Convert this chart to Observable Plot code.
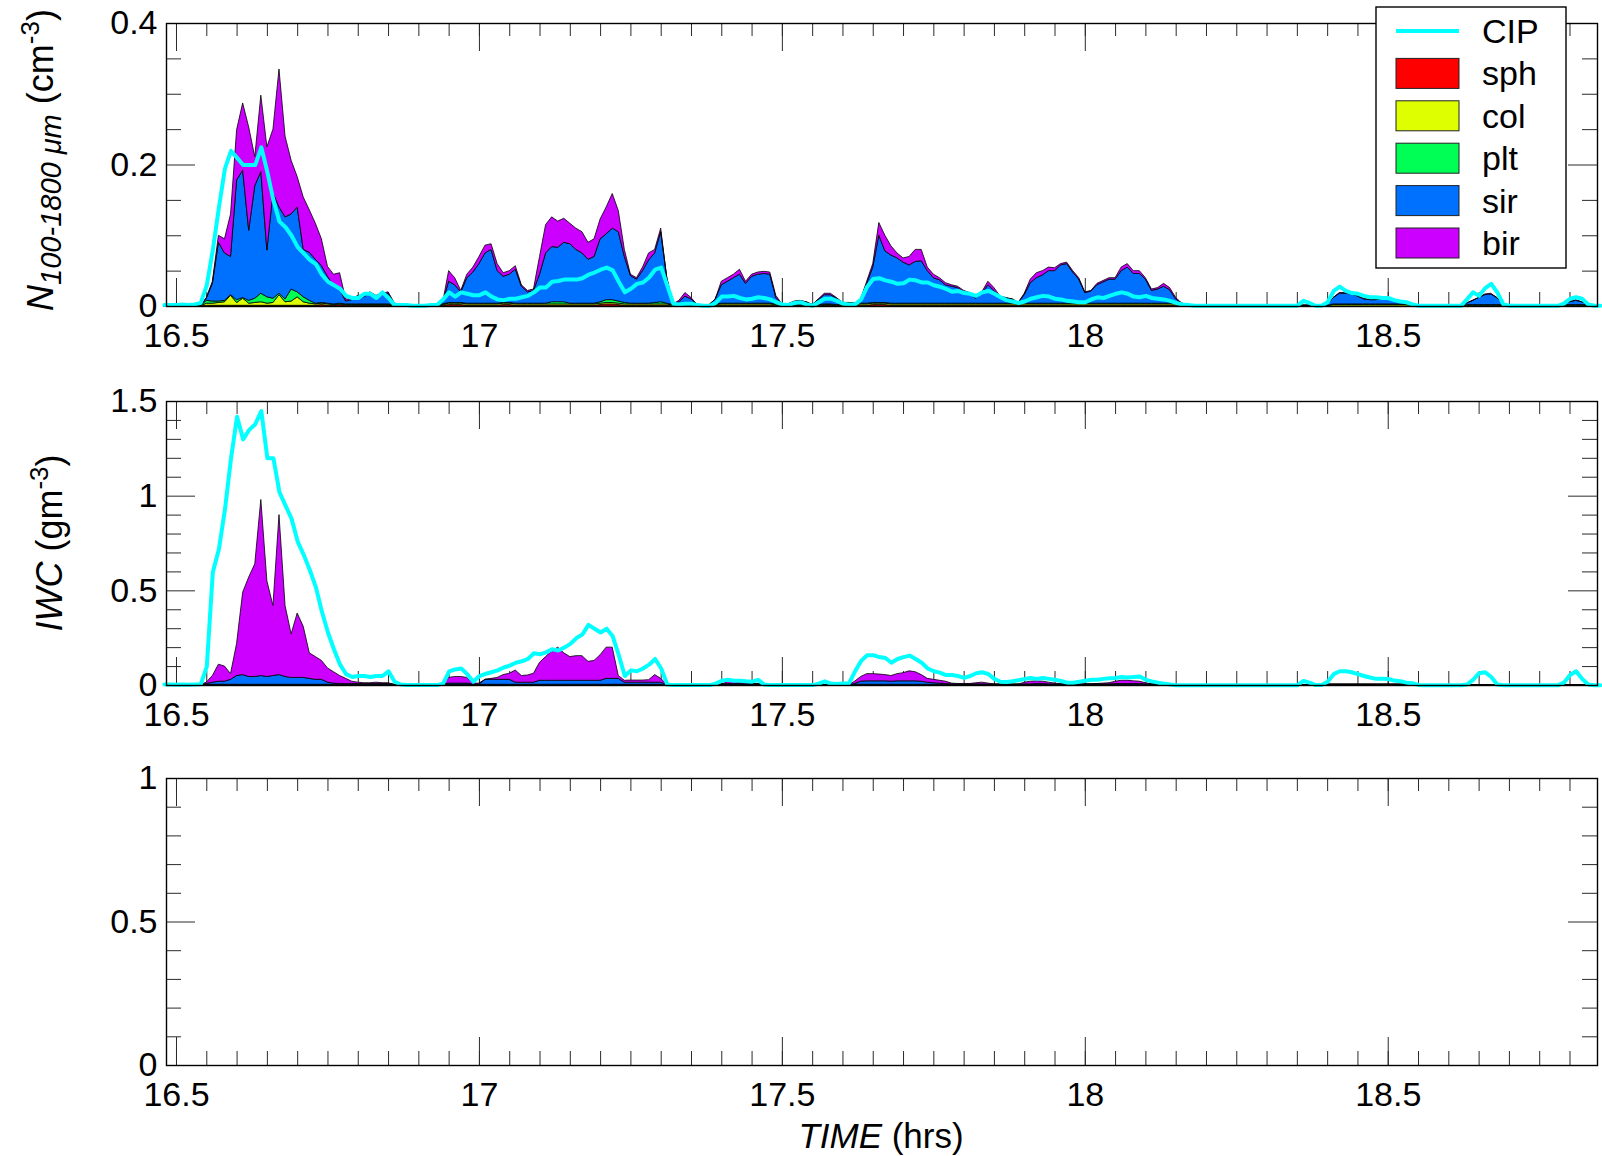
<!DOCTYPE html>
<html>
<head>
<meta charset="utf-8">
<script src="https://cdn.jsdelivr.net/npm/d3@7"></script>
<script src="https://cdn.jsdelivr.net/npm/@observablehq/plot@0.6"></script>
<style>
  html, body { margin: 0; padding: 0; background: #fff; overflow: hidden; }
  #chart { position: relative; width: 1602px; height: 1156px; font-family: "Liberation Sans", Arial, sans-serif; }
  #chart svg { display: block; }
</style>
</head>
<body>
<div id="chart"></div>
<script>
// Habit classes, bottom to top of the stack, and their fills
const TYPES = ["sph", "col", "plt", "sir", "bir"];
const TYPE_COLORS = ["#ff0000", "#ddff00", "#00ff55", "#0070ff", "#cc00ff"];
const CIP_COLOR = "#00ffff";

// Samples every 0.01 h starting at 16.48 h
const T_START = 16.48, T_STEP = 0.01;

// ---- Number concentration N(100-1800 um), cm^-3, per habit ----
const sphN = [
  0, 0,
  0, 0, 0, 0, 0, .001, .001, .001, .001, .001,
  .001, .001, .001, .001, .001, .001, .001, .001, .001, .001,
  .001, .001, .001, .001, .002, .001, .001, .002, .001, .001,
  .001, .001, .001, .001, .001, .001, 0, 0, 0, 0,
  0, 0, 0, 0, .001, .002, .002, .002, .001, .001,
  .001, .001, .001, .001, .002, .002, .001, .001, .001, .001,
  .001, .001, .001, .001, .001, .001, .001, .001, .001, .001,
  .002, .003, .003, .002, .001, .001, .001, .001, .001, .001,
  .001, .001, 0, 0, 0, 0, 0, 0, 0, .001,
  .001, .001, .001, .001, .001, .001, .001, .001, .001, .001,
  0, 0, 0, 0, 0, 0, 0, .001, .001, 0,
  .001, .001, .001, .001, .001, .002, .002, .002, .001, .001,
  .001, .001, .001, .001, .001, .001, .001, .001, .001, .001,
  .001, .001, .001, .001, .001, .001, .001, .001, .001, .001,
  .001, .001, .001, .001, .001, .001, .001, .001, .001, .001,
  .001, .001, .001, .001, .001, .001, .001, .001, .001, .001,
  .001, .001, .001, .001, .001, .001, 0, 0, 0, 0,
  0, 0, 0, 0, 0, 0, 0, 0, 0, 0,
  0, 0, 0, 0, 0, 0, 0, 0, 0, 0,
  0, 0, 0, 0, 0, 0, 0, 0, 0, 0,
  0, 0, 0, 0, 0, 0, 0, 0, 0, 0,
  0, 0, 0, 0, 0, 0, 0, 0, 0, 0,
  0, 0, 0, 0, 0, 0, 0, 0, 0, 0,
  0, 0, 0, 0, 0, 0
];
const colN = [
  0, 0,
  0, 0, 0, 0, 0, .003, .003, .004, .005, .014,
  .004, .010, .003, .004, .005, .003, .004, .015, .005, .006,
  .012, .005, .003, .002, .002, .002, .001, .001, .001, .001,
  .001, .001, .001, .001, .001, .001, .001, 0, 0, 0,
  0, 0, 0, 0, .001, .002, .002, .002, .002, .002,
  .002, .002, .002, .002, .002, .002, .002, .002, .002, .002,
  .002, .002, .002, .002, .002, .002, .002, .002, .002, .002,
  .002, .002, .002, .002, .002, .002, .002, .002, .002, .002,
  .002, .002, .001, .001, .001, .001, .001, .001, .001, .001,
  .002, .002, .002, .002, .002, .002, .002, .002, .002, .001,
  .001, .001, .001, .001, .001, .001, .001, .001, .001, .001,
  .001, .001, .001, .002, .002, .002, .002, .002, .002, .002,
  .002, .002, .002, .002, .002, .002, .002, .002, .002, .002,
  .002, .002, .002, .002, .002, .002, .002, .002, .002, .002,
  .002, .002, .002, .002, .002, .002, .002, .002, .002, .002,
  .002, .002, .002, .002, .002, .002, .002, .002, .002, .002,
  .002, .002, .002, .002, .002, .002, .002, .001, .001, .001,
  .001, .001, .001, .001, .001, .001, .001, .001, .001, .001,
  .001, .001, .001, .001, .001, .001, .001, .001, .001, .001,
  .001, .002, .002, .002, .002, .002, .002, .002, .002, .002,
  .002, .002, .002, .002, .001, .001, .001, .001, .001, .001,
  .001, .001, .001, .001, .001, .001, .001, .001, .001, .001,
  .001, .001, .001, .001, .001, .001, .001, .001, .001, .001,
  .001, .001, .001, .001, .001, .001
];
const pltN = [
  0, 0,
  0, 0, 0, 0, 0, .004, .003, .002, .002, .001,
  .004, .001, .004, .006, .012, .009, .006, .002, .004, .017,
  .007, .007, .004, .001, .001, .001, .001, .001, .001, .001,
  .001, .001, .001, .001, .001, .001, .001, 0, 0, 0,
  0, 0, 0, 0, .001, .001, .001, .001, .001, .001,
  .001, .001, .001, .001, .001, .001, .001, .001, .001, .001,
  .001, .001, .003, .003, .003, .001, .001, .001, .001, .001,
  .002, .004, .004, .003, .002, .001, .001, .001, .001, .002,
  .003, .001, .001, .001, .001, .001, .001, .001, .001, .001,
  .001, .001, .001, .001, .001, .001, .001, .001, .001, .001,
  .001, .001, .001, .001, .001, .001, .001, .001, .001, .001,
  .001, .001, .001, .001, .001, .001, .001, .001, .001, .001,
  .001, .001, .001, .001, .001, .001, .001, .001, .001, .001,
  .001, .001, .001, .001, .001, .001, .001, .001, .001, .001,
  .001, .001, .001, .001, .001, .001, .001, .001, .001, .001,
  .001, .001, .001, .001, .001, .001, .001, .001, .001, .001,
  .001, .001, .001, .001, .001, .001, .001, .001, 0, 0,
  0, 0, 0, 0, 0, 0, 0, 0, 0, 0,
  0, 0, 0, 0, 0, 0, 0, 0, 0, 0,
  0, .001, .001, .001, .001, .001, .001, .001, .001, .001,
  .001, .001, .001, .001, .001, 0, 0, 0, 0, 0,
  0, 0, 0, .001, .001, .001, .001, .001, .001, .001,
  0, 0, 0, 0, 0, 0, 0, 0, 0, .001,
  .001, .001, .001, .001, 0, 0
];
const sirN = [
  0, 0,
  0, 0, 0, 0, 0, .003, .025, .083, .067, .054,
  .169, .180, .099, .159, .172, .066, .149, .122, .116, .106,
  .120, .067, .068, .062, .052, .038, .025, .020, .004, .006,
  .010, .010, .015, .010, .013, .015, .002, 0, 0, 0,
  0, 0, 0, 0, .002, .030, .025, .015, .036, .044,
  .056, .071, .076, .046, .037, .040, .048, .024, .016, .018,
  .041, .071, .078, .077, .084, .084, .076, .071, .062, .066,
  .089, .093, .101, .098, .065, .039, .034, .046, .061, .070,
  .099, .036, .001, .004, .012, .008, 0, 0, 0, .007,
  .026, .031, .036, .041, .028, .038, .041, .042, .041, .009,
  .001, .001, .004, .005, .004, 0, .007, .013, .013, .009,
  .002, .002, .001, .006, .028, .050, .095, .073, .068, .064,
  .058, .054, .059, .060, .046, .036, .033, .026, .024, .022,
  .016, .013, .007, .014, .026, .018, .009, .007, .006, .001,
  .012, .029, .036, .040, .046, .046, .054, .056, .044, .034,
  .015, .017, .026, .030, .034, .034, .046, .051, .042, .042,
  .034, .018, .020, .024, .019, .006, .001, 0, 0, 0,
  0, 0, 0, 0, 0, 0, 0, 0, 0, 0,
  0, 0, 0, 0, 0, 0, 0, 0, 0, 0,
  .001, .009, .015, .015, .014, .011, .007, .006, .006, .007,
  .009, .005, .003, .001, 0, 0, 0, 0, 0, 0,
  0, 0, 0, .002, .006, .010, .014, .015, .010, .001,
  0, 0, 0, 0, 0, 0, 0, 0, 0, .001,
  .004, .006, .004, .001, 0, 0
];
const birN = [
  0, 0,
  0, 0, 0, 0, 0, .001, .003, .010, .020, .060,
  .071, .095, .146, .041, .108, .146, .090, .195, .114, .076,
  .043, .074, .060, .051, .038, .014, .017, .023, .003, .001,
  .002, .002, .002, .002, .002, .002, .001, 0, 0, 0,
  0, 0, 0, 0, 0, .015, .010, .002, .005, .007,
  .010, .011, .008, .010, .005, .005, .005, .002, .002, .002,
  .025, .040, .042, .037, .034, .029, .030, .030, .024, .025,
  .028, .038, .049, .030, .010, .002, .002, .005, .010, .005,
  .005, 0, 0, .002, .005, .002, 0, 0, 0, 0,
  .005, .005, .005, .007, .003, .003, .003, .003, .003, .003,
  0, 0, .001, .001, 0, 0, .001, .002, .002, .001,
  0, 0, 0, 0, .003, .005, .018, .022, .013, .007,
  .006, .012, .017, .016, .005, .005, .003, .003, .002, .002,
  .002, .002, .001, .002, .005, .004, .001, .001, 0, 0,
  .002, .005, .007, .006, .005, .004, .002, .002, .002, .002,
  .001, .001, .002, .002, .002, .002, .005, .005, .004, .004,
  .002, .002, .002, .004, .003, .002, 0, 0, 0, 0,
  0, 0, 0, 0, 0, 0, 0, 0, 0, 0,
  0, 0, 0, 0, 0, 0, 0, 0, 0, 0,
  0, 0, .001, .001, .001, .001, .001, 0, 0, 0,
  0, 0, 0, 0, 0, 0, 0, 0, 0, 0,
  0, 0, 0, 0, 0, 0, .001, .001, 0, 0,
  0, 0, 0, 0, 0, 0, 0, 0, 0, 0,
  0, .001, 0, 0, 0, 0
];
// CIP probe total concentration, cm^-3
const cipN = [
  .002, .002,
  .002, .003, .002, .003, .005, .030, .080, .140, .195, .220,
  .210, .200, .200, .200, .225, .190, .150, .120, .112, .100,
  .084, .075, .066, .060, .045, .035, .030, .025, .015, .012,
  .012, .018, .018, .012, .020, .012, .002, .002, .002, .001,
  .001, .001, .002, .002, .010, .020, .014, .020, .018, .016,
  .016, .020, .014, .010, .009, .011, .011, .013, .015, .020,
  .027, .027, .035, .036, .038, .038, .038, .040, .045, .048,
  .052, .055, .051, .035, .020, .025, .032, .034, .041, .052,
  .055, .030, .004, .003, .004, .004, .002, .001, .001, .005,
  .014, .014, .015, .012, .010, .011, .013, .012, .010, .006,
  .003, .002, .005, .006, .003, .001, .006, .011, .011, .008,
  .004, .003, .003, .010, .028, .039, .040, .037, .035, .032,
  .033, .038, .037, .034, .034, .030, .028, .025, .021, .022,
  .019, .018, .015, .020, .022, .018, .013, .009, .007, .005,
  .007, .011, .013, .015, .014, .011, .010, .008, .007, .006,
  .006, .010, .013, .012, .015, .018, .020, .018, .014, .013,
  .015, .012, .011, .010, .008, .005, .003, .002, .001, .001,
  .001, .001, .001, .001, .001, .001, .001, .001, .001, .001,
  .001, .001, .001, .001, .001, .001, .008, .005, .001, .001,
  .006, .022, .028, .022, .019, .018, .015, .013, .013, .012,
  .012, .009, .007, .006, .003, .001, .001, .001, .001, .001,
  .001, .001, .001, .010, .020, .015, .026, .032, .020, .003,
  .001, .001, .001, .001, .001, .001, .001, .001, .001, .004,
  .011, .013, .011, .003, .001, .001
];

// ---- Ice water content, g m^-3, per habit ----
const sphW = [
  0, 0,
  0, 0, 0, 0, .001, .001, .001, .001, .001, .001,
  .001, .001, .001, .001, .001, .001, .001, .001, .001, .001,
  .001, .001, .001, .001, .001, .001, .001, .001, .001, .001,
  .001, .001, .001, .001, .001, .001, .001, 0, 0, 0,
  0, 0, 0, 0, .001, .001, .001, .001, .001, .001,
  .001, .001, .001, .001, .001, .001, .001, .001, .001, .001,
  .001, .001, .001, .001, .001, .001, .001, .001, .001, .001,
  .001, .001, .001, .001, .001, .001, .001, .001, .001, .001,
  .001, .001, 0, 0, 0, 0, 0, 0, 0, 0,
  .001, .001, .001, .001, .001, .001, .001, .001, 0, 0,
  0, 0, .001, .001, .001, 0, 0, 0, 0, 0,
  0, 0, .001, .001, .001, .001, .001, .001, .001, .001,
  .001, .001, .001, .001, .001, .001, .001, .001, .001, .001,
  .001, .001, .001, .001, .001, .001, .001, .001, .001, .001,
  .001, .001, .001, .001, .001, .001, .001, .001, .001, .001,
  .001, .001, .001, .001, .001, .001, .001, .001, .001, .001,
  .001, .001, .001, .001, .001, 0, 0, 0, 0, 0,
  0, 0, 0, 0, 0, 0, 0, 0, 0, 0,
  0, 0, 0, 0, 0, 0, 0, 0, 0, 0,
  .001, .001, .001, .001, .001, .001, .001, .001, .001, .001,
  .001, .001, .001, .001, 0, 0, 0, 0, 0, 0,
  0, 0, 0, 0, 0, 0, 0, 0, 0, 0,
  0, 0, 0, 0, 0, 0, 0, 0, 0, 0,
  0, 0, 0, 0, 0, 0
];
const colW = [
  0, 0,
  0, 0, 0, 0, .001, .002, .002, .002, .002, .002,
  .002, .002, .002, .002, .002, .002, .002, .002, .002, .002,
  .002, .002, .002, .002, .002, .002, .002, .002, .002, .002,
  .002, .002, .002, .002, .002, .002, .001, 0, 0, 0,
  0, 0, 0, 0, .002, .002, .002, .002, .002, .002,
  .002, .002, .002, .002, .002, .002, .002, .002, .002, .002,
  .002, .002, .002, .002, .002, .002, .002, .002, .002, .002,
  .002, .002, .002, .002, .002, .002, .002, .002, .002, .002,
  .002, .001, 0, 0, 0, 0, 0, 0, 0, 0,
  .002, .002, .002, .002, .002, .002, .002, .002, 0, 0,
  0, 0, .002, .002, .002, 0, 0, 0, 0, 0,
  0, 0, .002, .002, .002, .002, .002, .002, .002, .002,
  .002, .002, .002, .002, .002, .002, .002, .002, .002, .002,
  .002, .002, .002, .002, .002, .002, .002, .002, .002, .002,
  .002, .002, .002, .002, .002, .002, .002, .002, .002, .002,
  .002, .002, .002, .002, .002, .002, .002, .002, .002, .002,
  .002, .002, .002, .002, .001, 0, 0, 0, 0, 0,
  0, 0, 0, 0, 0, 0, 0, 0, 0, 0,
  0, 0, 0, 0, 0, 0, 0, 0, 0, 0,
  .002, .002, .002, .002, .002, .002, .002, .002, .002, .002,
  .002, .002, .002, .002, 0, 0, 0, 0, 0, 0,
  0, 0, 0, 0, .001, .001, .001, .001, 0, 0,
  0, 0, 0, 0, 0, 0, 0, 0, 0, 0,
  .001, .001, .001, 0, 0, 0
];
const pltW = [
  0, 0,
  0, 0, 0, 0, .001, .001, .001, .001, .001, .001,
  .001, .001, .001, .001, .001, .001, .001, .001, .001, .001,
  .001, .001, .001, .001, .001, .001, .001, .001, .001, .001,
  .001, .001, .001, .001, .001, .001, .001, 0, 0, 0,
  0, 0, 0, 0, .001, .001, .001, .001, .001, .001,
  .001, .001, .001, .001, .001, .001, .001, .001, .001, .001,
  .001, .001, .001, .001, .001, .001, .001, .001, .001, .001,
  .001, .001, .001, .001, .001, .001, .001, .001, .001, .001,
  .001, .001, 0, 0, 0, 0, 0, 0, 0, 0,
  .001, .001, .001, .001, .001, .001, .001, .001, 0, 0,
  0, 0, .001, .001, .001, 0, 0, 0, 0, 0,
  0, 0, .001, .001, .001, .001, .001, .001, .001, .001,
  .001, .001, .001, .001, .001, .001, .001, .001, .001, .001,
  .001, .001, .001, .001, .001, .001, .001, .001, .001, .001,
  .001, .001, .001, .001, .001, .001, .001, .001, .001, .001,
  .001, .001, .001, .001, .001, .001, .001, .001, .001, .001,
  .001, .001, .001, .001, .001, 0, 0, 0, 0, 0,
  0, 0, 0, 0, 0, 0, 0, 0, 0, 0,
  0, 0, 0, 0, 0, 0, 0, 0, 0, 0,
  .001, .001, .001, .001, .001, .001, .001, .001, .001, .001,
  .001, .001, .001, .001, 0, 0, 0, 0, 0, 0,
  0, 0, 0, 0, 0, 0, 0, 0, 0, 0,
  0, 0, 0, 0, 0, 0, 0, 0, 0, 0,
  0, 0, 0, 0, 0, 0
];
const sirW = [
  0, 0,
  0, 0, 0, 0, 0, .004, .011, .016, .016, .026,
  .046, .051, .041, .041, .046, .041, .046, .051, .041, .036,
  .036, .036, .031, .026, .026, .011, .006, .004, .004, .004,
  .004, .004, .004, .004, .004, .004, 0, 0, 0, 0,
  0, 0, 0, 0, .001, .006, .006, .006, .006, .001,
  .001, .026, .026, .026, .026, .026, .011, .011, .011, .011,
  .021, .021, .021, .021, .021, .021, .021, .021, .021, .021,
  .021, .031, .031, .031, .011, .011, .011, .011, .011, .011,
  .011, 0, 0, 0, 0, 0, 0, 0, 0, 0,
  .001, .004, .004, .004, .002, .002, .002, 0, 0, 0,
  0, 0, 0, .001, 0, 0, 0, 0, 0, 0,
  0, 0, .004, .016, .018, .018, .018, .018, .016, .018,
  .018, .018, .018, .016, .011, .008, .006, .004, .002, .001,
  .001, .001, .002, .002, .001, 0, 0, 0, 0, 0,
  .002, .002, .004, .004, .002, .002, .001, .001, .001, .001,
  .001, .001, .002, .002, .002, .004, .004, .004, .004, .004,
  .002, .001, 0, 0, 0, 0, 0, 0, 0, 0,
  0, 0, 0, 0, 0, 0, 0, 0, 0, 0,
  0, 0, 0, 0, 0, 0, 0, 0, 0, 0,
  0, 0, 0, 0, 0, 0, 0, 0, 0, 0,
  0, 0, 0, 0, 0, 0, 0, 0, 0, 0,
  0, 0, 0, 0, 0, 0, 0, 0, 0, 0,
  0, 0, 0, 0, 0, 0, 0, 0, 0, 0,
  0, 0, 0, 0, 0, 0
];
const birW = [
  0, 0,
  0, 0, 0, 0, 0, .007, .035, .090, .080, .030,
  .170, .435, .525, .595, .930, .505, .370, .845, .375, .230,
  .340, .270, .135, .120, .100, .075, .060, .042, .027, .012,
  .007, .004, .004, .007, .004, .004, 0, 0, 0, 0,
  0, 0, 0, 0, 0, .030, .035, .035, .030, .005,
  .005, 0, .005, .010, .025, .032, .064, .035, .038, .047,
  .095, .125, .155, .175, .145, .125, .130, .130, .100, .105,
  .135, .165, .165, .015, .010, .011, .011, .011, .013, .040,
  .020, 0, 0, 0, 0, 0, 0, 0, 0, 0,
  0, .010, .010, .007, .004, .002, .002, .001, 0, 0,
  0, 0, .001, .003, .001, 0, 0, 0, 0, 0,
  0, 0, .012, .025, .038, .038, .036, .033, .030, .038,
  .043, .053, .048, .035, .020, .018, .015, .012, .004, .003,
  .003, .003, .006, .009, .005, .001, 0, 0, 0, 0,
  .009, .014, .014, .012, .009, .004, .001, 0, 0, 0,
  0, .001, .002, .004, .006, .012, .017, .017, .014, .012,
  .006, .001, .001, 0, 0, 0, 0, 0, 0, 0,
  0, 0, 0, 0, 0, 0, 0, 0, 0, 0,
  0, 0, 0, 0, 0, 0, 0, 0, 0, 0,
  0, 0, 0, 0, 0, 0, 0, 0, 0, 0,
  0, 0, 0, 0, 0, 0, 0, 0, 0, 0,
  0, 0, 0, 0, 0, 0, 0, 0, 0, 0,
  0, 0, 0, 0, 0, 0, 0, 0, 0, 0,
  0, 0, 0, 0, 0, 0
];
// CIP probe ice water content, g m^-3
const cipW = [
  .005, .005,
  .004, .005, .004, .005, .006, .100, .600, .720, .930, 1.20,
  1.42, 1.30, 1.35, 1.38, 1.45, 1.20, 1.20, 1.02, .950, .880,
  .760, .690, .610, .520, .390, .280, .190, .110, .060, .045,
  .050, .050, .045, .050, .050, .075, .020, .005, .003, .002,
  .002, .002, .002, .002, .010, .075, .085, .090, .060, .020,
  .050, .062, .070, .080, .095, .105, .120, .128, .140, .170,
  .165, .175, .192, .185, .200, .220, .250, .270, .320, .300,
  .280, .300, .260, .160, .050, .080, .075, .090, .110, .140,
  .090, .005, .002, .002, .002, .002, .002, .002, .002, .010,
  .025, .030, .025, .025, .022, .020, .030, .005, .002, .002,
  .002, .002, .002, .002, .002, .002, .010, .022, .010, .008,
  .010, .012, .075, .130, .160, .160, .150, .145, .120, .140,
  .150, .158, .140, .120, .090, .075, .068, .055, .055, .050,
  .040, .050, .065, .070, .060, .035, .020, .018, .022, .028,
  .035, .040, .035, .040, .035, .030, .024, .015, .015, .020,
  .025, .030, .030, .035, .038, .040, .045, .042, .045, .048,
  .030, .022, .015, .010, .005, .001, .001, .001, .001, .001,
  .001, .001, .001, .001, .001, .001, .001, .001, .001, .001,
  .001, .001, .001, .001, .001, .001, .024, .015, .002, .003,
  .020, .060, .075, .075, .070, .060, .050, .042, .035, .035,
  .034, .026, .023, .015, .012, .003, .001, .001, .001, .001,
  .001, .001, .001, .005, .030, .065, .070, .045, .005, .001,
  .001, .001, .001, .001, .001, .001, .001, .001, .001, .015,
  .055, .075, .035, .005, .001, .001
];

// Axis ticks
const X_DOMAIN = [16.4835, 18.8454];
const X_MAJOR = [16.5, 17, 17.5, 18, 18.5];
const X_MINOR = d3.range(47).map(i => +(16.5 + i * 0.05).toFixed(2));
const N_MAJOR = [0, 0.2, 0.4];
const N_MINOR = [0.05, 0.1, 0.15, 0.25, 0.3, 0.35];
const W_MAJOR = [0, 0.5, 1, 1.5];
const W_MINOR = [0.1, 0.2, 0.3, 0.4, 0.6, 0.7, 0.8, 0.9, 1.1, 1.2, 1.3, 1.4];
const E_MAJOR = [0, 0.5, 1];
const E_MINOR = [0.1, 0.2, 0.3, 0.4, 0.6, 0.7, 0.8, 0.9];

const TIME = sphN.map((_, i) => +(T_START + i * T_STEP).toFixed(2));
const allSeries = {sphN, colN, pltN, sirN, birN, cipN, sphW, colW, pltW, sirW, birW, cipW};
for (const [name, arr] of Object.entries(allSeries)) {
  if (arr.length !== TIME.length) throw new Error(`${name} has ${arr.length} samples, expected ${TIME.length}`);
}

function stackRows(series) {
  return TYPES.flatMap((type, k) => series[k].map((v, i) => ({t: TIME[i], type, v})));
}
function lineRows(values) {
  return values.map((v, i) => ({t: TIME[i], v}));
}

const FONT = "'Liberation Sans', Arial, Helvetica, sans-serif";
const LEFT = 166, RIGHT = 5, WIDTH = 1602;

function panel({height, marginTop, marginBottom, yDomain, yMajor, yMinor, marks = []}) {
  const plotW = WIDTH - LEFT - RIGHT;
  const plotH = height - marginTop - marginBottom;
  const [x0, x1] = X_DOMAIN, [y0, y1] = yDomain;
  const ux = (x1 - x0) / plotW, uy = (y1 - y0) / plotH;
  const tick = {stroke: "#2a2a2a", strokeWidth: 1};
  return Plot.plot({
    width: WIDTH, height,
    marginLeft: LEFT, marginRight: RIGHT, marginTop, marginBottom,
    x: {domain: X_DOMAIN},
    y: {domain: yDomain},
    color: {type: "ordinal", domain: TYPES, range: TYPE_COLORS},
    style: {fontFamily: FONT, background: "white", color: "black", overflow: "visible"},
    marks: [
      // inward ticks on all four sides
      Plot.ruleX(X_MINOR, {x: d => d, y1: y0, y2: y0 + 14 * uy, ...tick}),
      Plot.ruleX(X_MINOR, {x: d => d, y1: y1, y2: y1 - 13 * uy, ...tick}),
      Plot.ruleX(X_MAJOR, {x: d => d, y1: y0, y2: y0 + 28 * uy, ...tick}),
      Plot.ruleX(X_MAJOR, {x: d => d, y1: y1, y2: y1 - 28 * uy, ...tick}),
      Plot.ruleY(yMinor, {y: d => d, x1: x0, x2: x0 + 15 * ux, ...tick}),
      Plot.ruleY(yMinor, {y: d => d, x1: x1, x2: x1 - 15 * ux, ...tick}),
      Plot.ruleY(yMajor, {y: d => d, x1: x0, x2: x0 + 29 * ux, ...tick}),
      Plot.ruleY(yMajor, {y: d => d, x1: x1, x2: x1 - 29 * ux, ...tick}),
      ...marks,
      Plot.axisX(X_MAJOR, {anchor: "bottom", tickSize: 0, tickPadding: 16, fontSize: 34, tickFormat: d => String(d), label: null}),
      Plot.axisY(yMajor, {anchor: "left", tickSize: 0, tickPadding: 9, fontSize: 34, tickFormat: d => String(d), label: null}),
      Plot.frame({stroke: "black", strokeWidth: 1.4})
    ]
  });
}

function habitMarks(series, cip) {
  return [
    Plot.areaY(stackRows(series), {
      x: "t", y: "v", fill: "type", order: TYPES,
      stroke: "black", strokeWidth: 0.8, strokeLinejoin: "round"
    }),
    Plot.lineY(lineRows(cip), {x: "t", y: "v", stroke: CIP_COLOR, strokeWidth: 4, strokeLinejoin: "round"})
  ];
}

const nPanel = panel({
  height: 370, marginTop: 23, marginBottom: 64,
  yDomain: [0, 0.4], yMajor: N_MAJOR, yMinor: N_MINOR,
  marks: habitMarks([sphN, colN, pltN, sirN, birN], cipN)
});
const iwcPanel = panel({
  height: 375, marginTop: 31, marginBottom: 60,
  yDomain: [0, 1.5], yMajor: W_MAJOR, yMinor: W_MINOR,
  marks: habitMarks([sphW, colW, pltW, sirW, birW], cipW)
});
const emptyPanel = panel({
  height: 411, marginTop: 33, marginBottom: 91,
  yDomain: [0, 1], yMajor: E_MAJOR, yMinor: E_MINOR
});

const chart = document.getElementById("chart");
chart.append(nPanel, iwcPanel, emptyPanel);

// Axis titles with sub/superscripts (coordinates are local to each panel's svg)
function richText(svg, {x, y, rotate = 0, size = 36, parts}) {
  const t = d3.select(svg).append("text")
    .attr("transform", `translate(${x},${y}) rotate(${rotate})`)
    .attr("text-anchor", "middle")
    .attr("font-family", FONT)
    .attr("font-size", size)
    .attr("fill", "black")
    .style("white-space", "pre");
  for (const p of parts) {
    const s = t.append("tspan").text(p.text);
    if (p.italic) s.attr("font-style", "italic");
    if (p.size) s.attr("font-size", p.size);
    if (p.dy) s.attr("dy", p.dy);
  }
}
richText(nPanel, {x: 53, y: 160, rotate: -90, parts: [
  {text: "N", italic: true},
  {text: "100-1800 \u03bcm", italic: true, size: 29, dy: 8},
  {text: " (cm", dy: -8},
  {text: "-3", size: 26, dy: -14},
  {text: ")", dy: 14}
]});
richText(iwcPanel, {x: 62, y: 173, rotate: -90, parts: [
  {text: "IWC", italic: true},
  {text: " (gm"},
  {text: "-3", size: 26, dy: -14},
  {text: ")", dy: 14}
]});
richText(emptyPanel, {x: 881, y: 403, size: 35, parts: [
  {text: "TIME", italic: true},
  {text: " (hrs)"}
]});

// Legend box in the upper right of the top panel
const lg = d3.select(nPanel).append("g")
  .attr("font-family", FONT).attr("font-size", 34).attr("text-anchor", "start");
lg.append("rect").attr("x", 1376).attr("y", 7).attr("width", 190).attr("height", 261)
  .attr("fill", "white").attr("stroke", "black").attr("stroke-width", 1.4);
const legendItems = [{label: "CIP", color: CIP_COLOR, line: true}]
  .concat(TYPES.map((t, k) => ({label: t, color: TYPE_COLORS[k]})));
legendItems.forEach((d, k) => {
  const cy = 31 + k * 42.4;
  if (d.line) {
    lg.append("line").attr("x1", 1396).attr("x2", 1459).attr("y1", cy).attr("y2", cy)
      .attr("stroke", d.color).attr("stroke-width", 4);
  } else {
    lg.append("rect").attr("x", 1396).attr("y", cy - 15).attr("width", 63).attr("height", 30)
      .attr("fill", d.color).attr("stroke", "#222").attr("stroke-width", 1);
  }
  lg.append("text").attr("x", 1482).attr("y", cy + 12).attr("fill", "black").text(d.label);
});
</script>
</body>
</html>
